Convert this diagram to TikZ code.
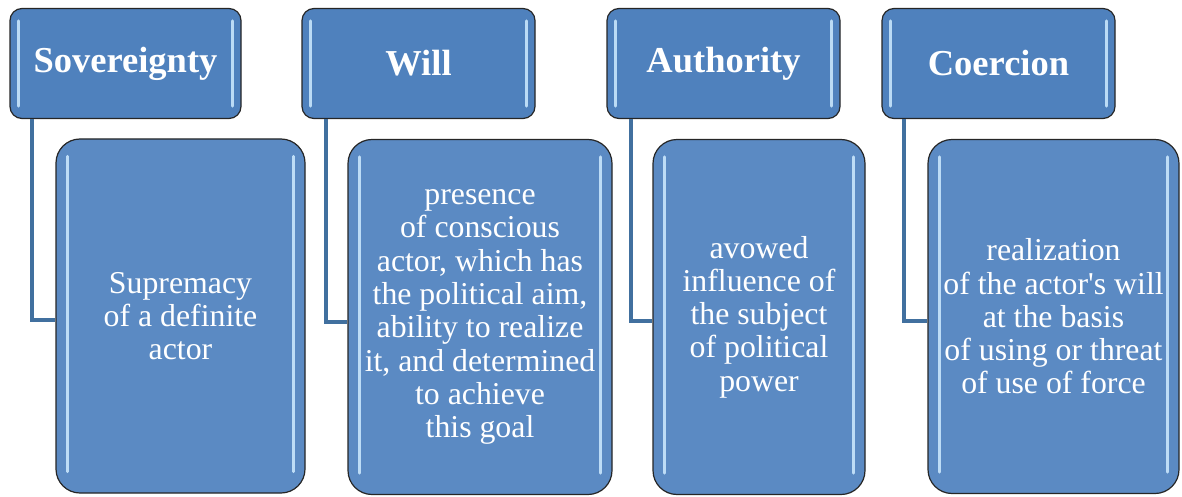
\documentclass[tikz,border=0pt]{standalone}
\usepackage{fontspec}
\newfontfamily\serfont[Extension=.ttf, UprightFont=LiberationSerif-Regular, BoldFont=LiberationSerif-Bold]{LiberationSerif}
\definecolor{headfill}{HTML}{4F81BD}
\definecolor{bodyfill}{HTML}{5B8AC3}
\definecolor{connc}{HTML}{41709F}
\definecolor{hilite}{HTML}{CFEBFF}
\tikzset{
  head/.style={draw=black!85, line width=1.2pt, fill=headfill, rounded corners=12pt,
    text=white, font=\serfont\fontsize{36.5}{40}\selectfont\bfseries, inner sep=0pt},
  bodybox/.style={draw=black!85, line width=1.2pt, fill=bodyfill, rounded corners=24pt,
    text=white, font=\serfont\fontsize{31.8}{33.3}\selectfont, align=center, inner sep=0pt},
  conn/.style={draw=connc, line width=4pt},
  hl/.style={draw=hilite, line width=3pt, line cap=round, opacity=0.85}
}
\begin{document}
\begin{tikzpicture}[x=1pt,y=-1pt]
\useasboundingbox (0,0) rectangle (1182,497);
% headers
\node[head, minimum width=231pt, minimum height=110pt] (h1) at (125.5,63.5) {Sovereignty};
\node[head, minimum width=233pt, minimum height=110pt] (h2) at (418.5,63.5) {Will};
\node[head, minimum width=233pt, minimum height=110pt] (h3) at (723.5,63.5) {Authority};
\node[head, minimum width=233pt, minimum height=110pt] (h4) at (998.5,63.5) {Coercion};
% bodies
\node[bodybox, minimum width=249pt, minimum height=354pt] (b1) at (180.5,316)
  {Supremacy\\of a definite\\actor};
\node[bodybox, minimum width=264pt, minimum height=355pt] (b2) at (480,317)
  {presence\\of conscious\\actor, which has\\the political aim,\\ability to realize\\it, and determined\\to achieve\\this goal};
\node[bodybox, minimum width=212pt, minimum height=355pt] (b3) at (759,317)
  {avowed\\influence of\\the subject\\of political\\power};
\node[bodybox, minimum width=251pt, minimum height=354pt] (b4) at (1053.5,316.5)
  {realization\\of the actor\char39 s will\\at the basis\\of using or threat\\of use of force};
% highlights
\foreach \n in {h1,h2,h3,h4}{
  \draw[hl] ([xshift=9pt,yshift=-13pt]\n.north west) -- ([xshift=9pt,yshift=13pt]\n.south west);
  \draw[hl] ([xshift=-9pt,yshift=-13pt]\n.north east) -- ([xshift=-9pt,yshift=13pt]\n.south east);
}
\foreach \n in {b1,b2,b3,b4}{
  \draw[hl] ([xshift=12pt,yshift=-18pt]\n.north west) -- ([xshift=12pt,yshift=22pt]\n.south west);
  \draw[hl] ([xshift=-12pt,yshift=-18pt]\n.north east) -- ([xshift=-12pt,yshift=22pt]\n.south east);
}
% connectors
\draw[conn] ([xshift=23pt]h1.south west) |- ([yshift=-4pt]b1.west);
\draw[conn] ([xshift=25pt]h2.south west) |- ([yshift=-5pt]b2.west);
\draw[conn] ([xshift=25pt]h3.south west) |- ([yshift=-4pt]b3.west);
\draw[conn] ([xshift=23pt]h4.south west) |- ([yshift=-4pt]b4.west);
\end{tikzpicture}
\end{document}
